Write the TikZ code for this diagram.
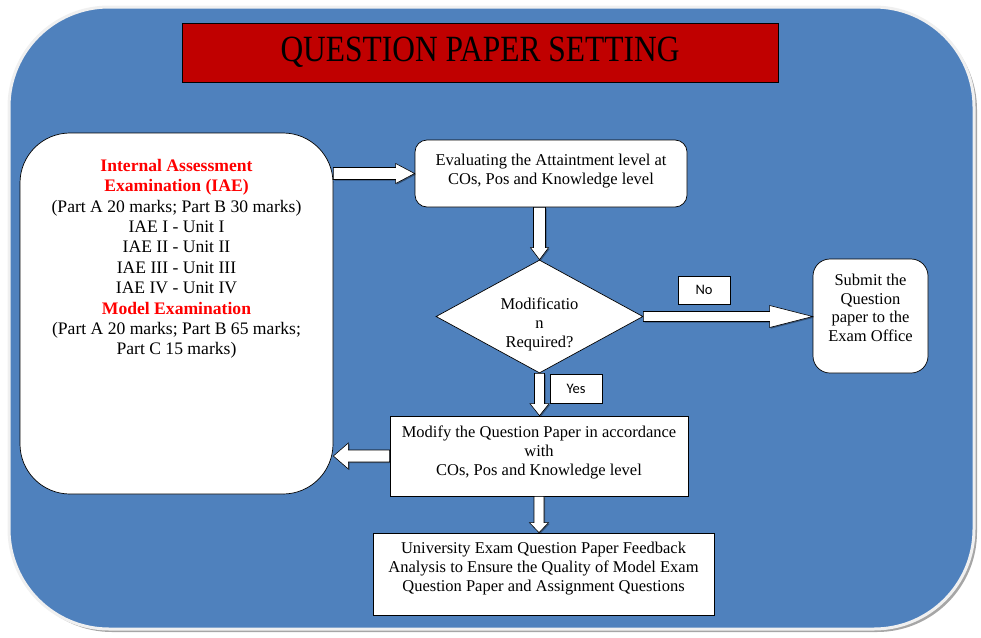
\documentclass[tikz,border=0pt]{standalone}
\usepackage{fontspec}
\setmainfont{Liberation Serif}
\newfontfamily\lblfont{Carlito}
\newfontfamily\titlefont[FakeStretch=0.85]{Liberation Serif}
\usetikzlibrary{shapes.geometric,calc,shadows}
\definecolor{bgblue}{HTML}{4F81BD}
\definecolor{titlered}{HTML}{C00000}
\definecolor{hdred}{HTML}{FF0000}
\tikzset{
  barrow/.style={draw=black, line width=0.6pt, fill=white, line join=miter,
    drop shadow={shadow xshift=1.2pt, shadow yshift=-1.2pt, fill=black, opacity=0.35}},
  wbox/.style={draw=black, line width=0.7pt, fill=white, inner sep=0pt},
  lbl/.style={draw=black, line width=0.7pt, fill=white, inner sep=0pt, font=\lblfont\fontsize{14.5}{17}\selectfont},
  bodyfont/.style={font=\fontsize{16.5}{19.1}\selectfont},
  bigfont/.style={font=\fontsize{17.6}{20.4}\selectfont}
}
\newcommand\rarrow[5]{\draw[barrow] let \p1=(#1), \p2=(#2) in
  (\x1,\y1+#3) -- (\x2-#5,\y1+#3) -- (\x2-#5,\y1+#4) -- (\x2,\y1) -- (\x2-#5,\y1-#4) -- (\x2-#5,\y1-#3) -- (\x1,\y1-#3) -- cycle;}
\newcommand\larrow[5]{\draw[barrow] let \p1=(#1), \p2=(#2) in
  (\x1,\y1+#3) -- (\x2+#5,\y1+#3) -- (\x2+#5,\y1+#4) -- (\x2,\y1) -- (\x2+#5,\y1-#4) -- (\x2+#5,\y1-#3) -- (\x1,\y1-#3) -- cycle;}
\newcommand\darrow[5]{\draw[barrow] let \p1=(#1), \p2=(#2) in
  (\x1+#3,\y1) -- (\x1+#3,\y2+#5) -- (\x1+#4,\y2+#5) -- (\x1,\y2) -- (\x1-#4,\y2+#5) -- (\x1-#3,\y2+#5) -- (\x1-#3,\y1) -- cycle;}
\begin{document}
\begin{tikzpicture}[x=1pt,y=-1pt]
\useasboundingbox (0,0) rectangle (981,637);
% background panel
\fill[fill=black!35, rounded corners=100pt] (12,10) rectangle (977,632);
\draw[draw=black!6, line width=3pt, fill=bgblue, rounded corners=100pt] (9,7) rectangle (974,629);
% title
\node[draw=black, line width=0.7pt, fill=titlered, minimum width=596pt, minimum height=59pt, inner sep=0pt,
      font=\titlefont\fontsize{37}{40}\selectfont] (title) at (480,52.5) {\raisebox{1pt}{QUESTION PAPER SETTING}};
% left box
\node[wbox, rounded corners=50pt, bigfont] (left) at (176.5,313.5)
 {\parbox[c][361pt][t]{313pt}{\centering\vspace*{26pt}
  {\color{hdred}\bfseries Internal Assessment\\ Examination (IAE)}\\
  (Part A 20 marks; Part B 30 marks)\\
  IAE I - Unit I\\
  IAE II - Unit II\\
  IAE III - Unit III\\
  IAE IV - Unit IV\\
  {\color{hdred}\bfseries Model Examination}\\
  (Part A 20 marks; Part B 65 marks;\\
  Part C 15 marks)\par}};
% evaluating box
\node[wbox, rounded corners=12pt, bodyfont] (eval) at (551,173.5)
 {\parbox[c][67pt][t]{272pt}{\centering\vspace*{14pt}
  Evaluating the Attaintment level at\\ COs, Pos and Knowledge level\par}};
% decision diamond
\node[diamond, draw=black, line width=0.7pt, fill=white, minimum width=207pt, minimum height=113pt, inner sep=0pt] (dia) at (539.5,316.5) {};
\node[bodyfont, align=center, inner sep=0pt] (diatext) at ($(dia.center)+(0,8)$) {Modificatio\\n\\Required?};
% submit box
\node[wbox, rounded corners=17pt, bodyfont] (sub) at (870.5,316)
 {\parbox[c][114pt][t]{115pt}{\centering\fontsize{16.5}{18.7}\selectfont\vspace*{15pt}
  Submit the\\ Question\\ paper to the\\ Exam Office\par}};
% labels
\node[lbl, minimum width=52pt, minimum height=28pt] (no) at (704,290) {No};
\node[lbl, minimum width=52pt, minimum height=29pt] (yes) at (576,388.5) {Yes};
% modify box
\node[wbox, bodyfont] (mod) at (539,456)
 {\parbox[c][80pt][t]{298pt}{\centering\vspace*{10pt}
  Modify the Question Paper in accordance\\ with\\ COs, Pos and Knowledge level\par}};
% university box
\node[wbox, bodyfont] (univ) at (543.5,574)
 {\parbox[c][82pt][t]{341pt}{\centering\vspace*{9pt}
  University Exam Question Paper Feedback\\ Analysis to Ensure the Quality of Model Exam\\ Question Paper and Assignment Questions\par}};
% block arrows
\rarrow{left.east |- eval.west}{eval.west}{6pt}{10pt}{19pt}
\darrow{dia.north |- eval.south}{dia.north}{6pt}{9pt}{12pt}
\rarrow{dia.east}{sub.west |- dia.east}{5pt}{11pt}{43pt}
\darrow{dia.south}{dia.south |- mod.north}{5pt}{9.5pt}{12pt}
\larrow{mod.west}{left.east |- mod.west}{6pt}{13pt}{15pt}
\darrow{mod.south}{mod.south |- univ.north}{5pt}{9.5pt}{10pt}
\end{tikzpicture}
\end{document}
